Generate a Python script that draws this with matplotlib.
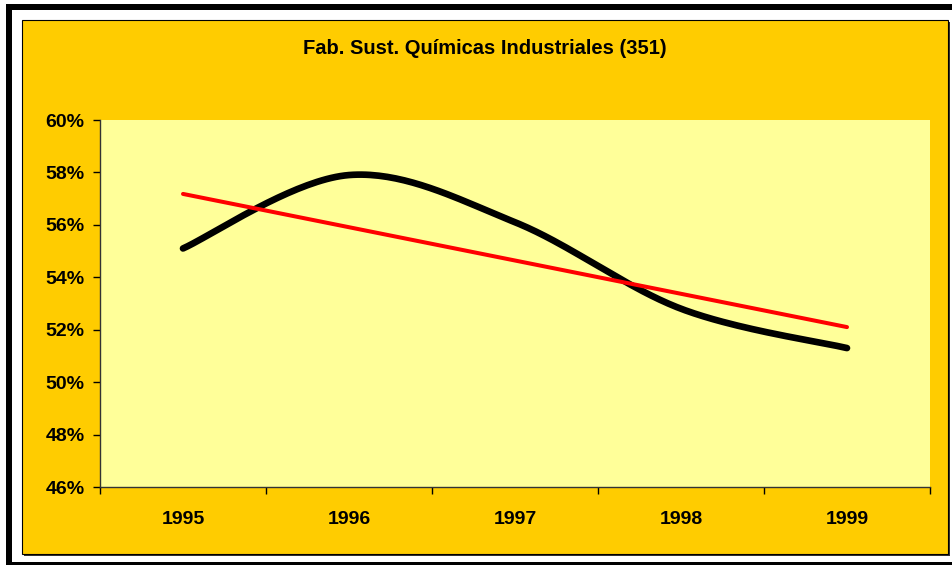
import numpy as np
import matplotlib
matplotlib.use("Agg")
import matplotlib.pyplot as plt
from matplotlib.patches import Rectangle

plt.rcParams['font.family'] = ['Liberation Sans', 'DejaVu Sans']

# Data
years = ['1995', '1996', '1997', '1998', '1999']
share = [55.1, 57.9, 56.1, 52.8, 51.3]   # %
title = 'Fab. Sust. Químicas Industriales (351)'

W, H = 953, 565
fig = plt.figure(figsize=(W / 100, H / 100), dpi=100)
fig.patch.set_facecolor('white')


def px_rect(x0, y0, x1, y1, **kw):
    # rectangle in pixel coords (origin top-left), kept behind the axes
    r = Rectangle((x0 / W, 1 - y1 / H), (x1 - x0) / W, (y1 - y0) / H,
                  transform=fig.transFigure, zorder=-10, **kw)
    fig.patches.append(r)


# outer frame
px_rect(6, 4, 953, 10, facecolor='black', edgecolor='none')
px_rect(6, 4, 12, 565, facecolor='black', edgecolor='none')
px_rect(6, 562, 953, 565, facecolor='black', edgecolor='none')
# shadow + gold chart area
px_rect(24, 22, 950, 556, facecolor='#333333', edgecolor='none')
px_rect(22, 20, 948, 554, facecolor='#FFCC00', edgecolor='black', linewidth=0.8)

# plot area
x0, x1, y0, y1 = 100, 930, 120, 487
ax = fig.add_axes([x0 / W, 1 - y1 / H, (x1 - x0) / W, (y1 - y0) / H])
ax.set_zorder(5)
ax.set_facecolor('#FFFF99')

x = np.arange(len(years))
y = np.array(share)


# Excel-like smoothed line (Catmull-Rom bezier)
def smooth(xs, ys, n=40):
    pts = np.column_stack([xs, ys]).astype(float)
    p = np.vstack([pts[0], pts, pts[-1]])
    out = []
    for i in range(1, len(p) - 2):
        p0, p1, p2, p3 = p[i - 1], p[i], p[i + 1], p[i + 2]
        c1 = p1 + (p2 - p0) / 6
        c2 = p2 - (p3 - p1) / 6
        t = np.linspace(0, 1, n)[:, None]
        seg = ((1 - t) ** 3) * p1 + 3 * ((1 - t) ** 2) * t * c1 + 3 * (1 - t) * t ** 2 * c2 + t ** 3 * p2
        out.append(seg if i == 1 else seg[1:])
    s = np.vstack(out)
    return s[:, 0], s[:, 1]


sx, sy = smooth(x, y)
ax.plot(sx, sy, color='black', linewidth=4.8, solid_capstyle='round', zorder=3)

# linear trend
k, b = np.polyfit(x, y, 1)
ax.plot(x, k * x + b, color='#FF0000', linewidth=2.9, solid_capstyle='round', zorder=4)

ax.set_xlim(-0.5, len(years) - 0.5)
ax.set_ylim(46, 60)
ax.set_yticks(np.arange(46, 61, 2))
ax.set_yticklabels([f'{v}%' for v in range(46, 61, 2)])
ax.set_xticks(x)
ax.set_xticklabels(years)
ax.set_xticks(np.arange(-0.5, len(years), 1), minor=True)
ax.tick_params(axis='x', which='major', length=0, pad=17, labelsize=14)
ax.tick_params(axis='x', which='minor', length=5, width=1, color='black', direction='out')
ax.tick_params(axis='y', length=5, width=1, color='black', direction='out', pad=6, labelsize=14)
for lab in ax.get_xticklabels() + ax.get_yticklabels():
    lab.set_fontweight('bold')

for side in ['top', 'right']:
    ax.spines[side].set_visible(False)
for side in ['left', 'bottom']:
    ax.spines[side].set_color('#333333')
    ax.spines[side].set_linewidth(1)

fig.text(485 / W, 1 - 49 / H, title, ha='center', va='center',
         fontsize=14.5, fontweight='bold')

fig.savefig('out.png', dpi=100, facecolor=fig.get_facecolor())
